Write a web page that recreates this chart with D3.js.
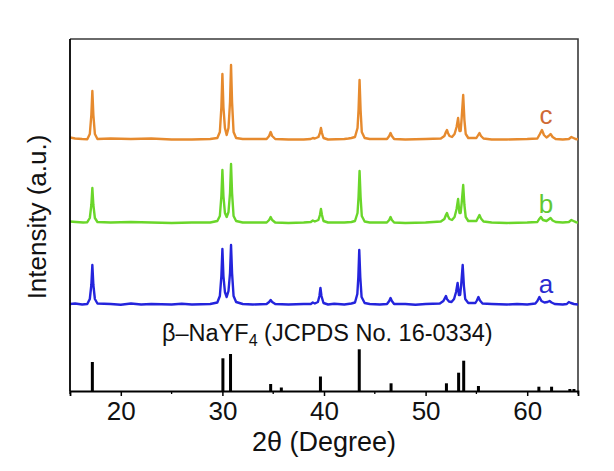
<!DOCTYPE html>
<html><head><meta charset="utf-8">
<script src="https://cdn.jsdelivr.net/npm/d3@7"></script>
<style>
html,body{margin:0;padding:0;background:#fff;}
text{font-family:"Liberation Sans",Arial,Helvetica,sans-serif;}
</style></head>
<body><svg id="chart" width="614" height="471"></svg>
<script>
// ---------------- data ----------------
const xTicks = [20, 30, 40, 50, 60];
const xMinorTicks = [15, 25, 35, 45, 55, 65];
const seriesNames = ["a", "b", "c"];
const seriesOffsets = [86, 168, 251];   // vertical stacking offsets (a.u.)

// JCPDS 16-0334 reference lines: 2θ and relative intensity
const refPos = [17.2, 30.05, 30.8, 34.75, 35.8, 39.65, 43.47, 46.6, 52.05, 53.25, 53.75, 55.2, 61.15, 62.4, 64.2, 64.6];
const refInt = [29, 32.7, 37, 7, 3.5, 14.5, 41.7, 7.7, 7.7, 18.3, 30.3, 5, 4.3, 4.3, 2, 2];

// sample c (orange)
const traceC = [[15.0,2.5],[15.5,1.5],[16.2,1],[16.7,0.8],[16.95,6],[17.1,25],[17.2,49],[17.3,25],[17.45,6],[17.7,1],[19,1.5],[21,1],[23,1.5],[25,0.5],[27,0.5],[28.8,1],[29.5,2],[29.75,8],[29.9,33],[30.0,66],[30.1,33],[30.25,12],[30.42,5],[30.6,12],[30.75,38],[30.85,75],[30.95,38],[31.1,8],[31.35,2],[32,1],[34.35,1],[34.6,4],[34.75,8],[34.9,4],[35.2,1],[36.5,0.5],[38,0.5],[38.7,1],[38.9,2],[39.1,1.5],[39.45,3],[39.6,7],[39.7,12],[39.8,7],[39.95,2],[40.4,0.5],[42,1],[42.4,1.5],[42.7,2],[43.05,3],[43.3,12],[43.4,30],[43.5,60],[43.6,30],[43.72,8],[44,2],[44.5,1],[46.2,1],[46.42,4],[46.55,7],[46.68,4],[46.9,1],[48,0.5],[50,1],[51.5,1.5],[51.85,4],[52.0,8],[52.1,10],[52.2,7],[52.35,4],[52.6,3],[52.85,6],[53.05,13],[53.2,22],[53.33,9],[53.45,9],[53.55,22],[53.7,45],[53.82,20],[53.95,6],[54.2,2],[55.0,2],[55.15,4.5],[55.3,7],[55.45,4],[55.7,1.5],[56.5,0.5],[58,0.5],[60,1],[61.0,1.5],[61.25,6],[61.45,10],[61.65,5],[61.9,2.5],[62.1,4],[62.3,6],[62.5,3],[62.8,1],[63.5,0.5],[64.1,1],[64.35,3],[64.55,2],[64.8,0.8],[65.0,1]];

// sample b (green)
const traceB = [[15.0,1.5],[15.6,1],[16.3,0.5],[16.7,0.8],[16.95,5],[17.1,18],[17.2,35],[17.3,18],[17.45,5],[17.7,1],[19,0.5],[21,1],[23,0.5],[25,0],[27,0.5],[28.8,0.5],[29.5,2],[29.75,7],[29.9,27],[30.0,53],[30.1,27],[30.25,10],[30.42,6],[30.6,11],[30.75,30],[30.85,59],[30.95,30],[31.1,7],[31.35,2],[32,0.5],[34.35,0.5],[34.6,3],[34.75,6],[34.9,3],[35.2,0.5],[36.5,0],[38,0.5],[38.7,1],[38.9,2.5],[39.1,1.5],[39.45,3],[39.6,8],[39.7,14],[39.8,8],[39.95,2],[40.4,0.5],[42,0.5],[42.7,1],[43.05,2],[43.3,10],[43.4,26],[43.5,52],[43.6,26],[43.72,7],[44,1.5],[44.5,0.5],[46.2,0.5],[46.42,3],[46.55,6],[46.68,3],[46.9,0.5],[48,0],[50,0.5],[51.5,1.5],[51.85,4],[52.0,8],[52.1,10],[52.2,7],[52.35,4],[52.6,3],[52.85,6],[53.05,14],[53.2,24],[53.33,10],[53.45,10],[53.55,20],[53.7,38],[53.82,18],[53.95,6],[54.2,2],[55.0,2],[55.15,5],[55.3,8],[55.45,4.5],[55.7,1.5],[56.5,0.5],[58,0],[60,0.5],[61.0,1],[61.15,3.5],[61.35,6],[61.55,3],[61.9,2],[62.1,3.5],[62.3,5],[62.5,2.5],[62.8,1],[63.5,0.5],[64.1,1],[64.35,3],[64.55,2],[64.8,0.8],[65.0,0.5]];

// sample a (blue)
const traceA = [[15.0,1],[15.5,1.5],[16.2,0.5],[16.7,1],[16.95,6],[17.1,20],[17.2,40],[17.3,20],[17.45,6],[17.7,1.5],[19,1],[20,0.3],[21,1.5],[22,0.5],[23,1],[25,0.5],[26,1.2],[27,0.5],[28.8,1],[29.5,2.5],[29.75,9],[29.9,29],[30.0,56],[30.1,29],[30.25,13],[30.42,8],[30.6,14],[30.75,32],[30.85,60],[30.95,32],[31.1,9],[31.35,3],[32,1],[33,0.5],[34.35,1],[34.6,3],[34.75,5],[34.9,3],[35.2,1],[36.5,0.5],[38,1],[38.7,1],[38.9,2.5],[39.1,1.5],[39.4,3],[39.55,9],[39.65,17],[39.75,9],[39.95,2],[40.4,0.5],[41,1.2],[42,0.5],[42.7,1.5],[43.05,2.5],[43.28,11],[43.38,28],[43.47,55],[43.57,28],[43.7,8],[44,2],[44.5,1],[45.5,0.5],[46.2,1],[46.42,4],[46.55,7],[46.68,4],[46.9,1],[48,1],[49,0.3],[50,1],[51.4,1.5],[51.75,4],[51.9,7],[52.0,9],[52.1,6],[52.3,3.5],[52.55,3],[52.8,6],[53.0,13],[53.15,22],[53.28,10],[53.4,10],[53.5,20],[53.65,40],[53.77,19],[53.9,6],[54.2,2],[54.9,2],[55.05,4.5],[55.2,8],[55.35,4.5],[55.6,1.5],[56.5,1],[58,0.5],[59,1],[60,0.5],[60.8,1.5],[61.0,4],[61.2,8],[61.4,4],[61.7,2.5],[62.0,3],[62.2,4],[62.4,2.5],[62.7,1],[63.5,0.5],[63.9,1],[64.1,3],[64.3,2],[64.6,1],[65.0,0.5]];

const traces = [traceA, traceB, traceC];
const traceColors = ["#2424dc", "#6ad62a", "#e68a2e"];
const labelColors = ["#2a2ad0", "#62c832", "#cf6a35"];

// ---------------- chart ----------------
const svg = d3.select("#chart");
const L = 70, R = 578, T = 39, B = 391;
const x = d3.scaleLinear().domain([15, 65]).range([L, R]);
const y = d3.scaleLinear().domain([0, 352]).range([B, T]);

svg.append("clipPath").attr("id", "clip")
  .append("rect").attr("x", L).attr("y", T).attr("width", R - L).attr("height", B - T);

// frame: top and right
svg.append("path")
  .attr("d", `M${L},${T}H${R}V${B}`)
  .attr("fill", "none").attr("stroke", "#3a3a3a").attr("stroke-width", 1.6);

// traces
const line = d3.line().x(d => x(d[0])).y(d => y(d[1]));
const g = svg.append("g").attr("clip-path", "url(#clip)");
traces.forEach((tr, i) => {
  const off = seriesOffsets[i];
  g.append("path")
    .datum(tr.map(d => [d[0], d[1] + off]))
    .attr("d", line)
    .attr("fill", "none")
    .attr("stroke", traceColors[i])
    .attr("stroke-width", 2.4)
    .attr("stroke-linejoin", "round");
});

// reference bars
g.selectAll("rect.ref").data(refPos).enter().append("rect")
  .attr("class", "ref")
  .attr("x", d => x(d) - 1.5)
  .attr("width", 3)
  .attr("y", (d, i) => y(refInt[i]))
  .attr("height", (d, i) => y(0) - y(refInt[i]))
  .attr("fill", "#000");

// x axis
const xAxis = d3.axisBottom(x).tickValues(xTicks).tickSize(5).tickPadding(6).tickFormat(d3.format("d"));
const ax = svg.append("g").attr("transform", `translate(0,${B})`).call(xAxis);
ax.select(".domain").attr("stroke", "#000").attr("stroke-width", 1.8);
ax.selectAll(".tick line").attr("stroke", "#000").attr("stroke-width", 1.5);
ax.selectAll(".tick text").attr("font-size", 26).attr("fill", "#111")
  .attr("font-family", "'Liberation Sans', Arial, sans-serif");
ax.selectAll(".minor").data(xMinorTicks).enter().append("line")
  .attr("class", "minor")
  .attr("x1", d => x(d)).attr("x2", d => x(d))
  .attr("y1", 0).attr("y2", 3)
  .attr("stroke", "#000").attr("stroke-width", 1.3);

// y axis line (no ticks)
svg.append("line").attr("x1", L).attr("x2", L).attr("y1", T).attr("y2", B)
  .attr("stroke", "#000").attr("stroke-width", 1.8);

// axis titles
svg.append("text").attr("x", (L + R) / 2).attr("y", 451)
  .attr("text-anchor", "middle").attr("font-size", 27).attr("fill", "#111")
  .text("2θ (Degree)");
svg.append("text").attr("transform", "translate(46,217) rotate(-90)")
  .attr("text-anchor", "middle").attr("font-size", 26).attr("fill", "#111")
  .text("Intensity (a.u.)");

// reference label
const rl = svg.append("text").attr("x", 162).attr("y", 341).attr("font-size", 23.5).attr("fill", "#111");
rl.append("tspan").text("β–NaYF");
rl.append("tspan").attr("font-size", 16).attr("dy", 5).text("4");
rl.append("tspan").attr("dy", -5).text(" (JCPDS No. 16-0334)");

// series labels
const labY = [293, 213, 124];
seriesNames.forEach((n, i) => {
  svg.append("text").attr("x", 546).attr("y", labY[i])
    .attr("text-anchor", "middle").attr("font-size", 26)
    .attr("fill", labelColors[i]).text(n);
});
</script></body></html>
